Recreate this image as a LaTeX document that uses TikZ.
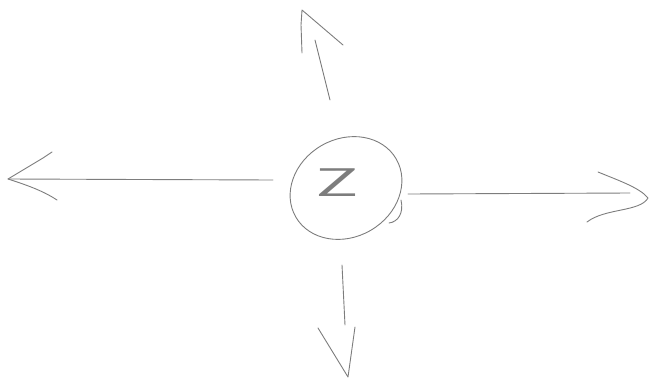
\documentclass[tikz,border=0pt]{standalone}
\usepackage{tikz}
\definecolor{pencil}{RGB}{125,125,125}
\tikzset{sketch/.style={pencil, line width=0.9pt, line cap=round, line join=round}}
\begin{document}
\begin{tikzpicture}[x=1pt,y=-1pt]
        \useasboundingbox (0,0) rectangle (655,383);

        % Centre Z
        \node[pencil, font=\sffamily\fontsize{40}{40}\selectfont, xscale=1.9, inner sep=0pt] (z) at (337,183) {Z};
        \draw[sketch, rotate around={30:(346,188)}] (346,188) ellipse (58 and 49);
        \draw[sketch] (401,200) .. controls (404,213) and (398,222) .. (389,223);

        % Shaft ends and tips
        \coordinate (lfrom) at (273,180);
        \coordinate (ltip) at (8,179);
        \coordinate (rfrom) at (408,194);
        \coordinate (rto) at (630,193);
        \coordinate (rtip) at (648,198);
        \coordinate (ufrom) at (330,100);
        \coordinate (uto) at (315,40);
        \coordinate (utip) at (302,10);
        \coordinate (dfrom) at (342,265);
        \coordinate (dto) at (345,325);
        \coordinate (dtip) at (348,377);

        % Left
        \draw[sketch] (lfrom) -- (ltip);
        \draw[sketch] (52,152) -- (43,158) -- (ltip) .. controls (30,186) and (45,192) .. (57,200);
        % Right
        \draw[sketch] (rfrom) -- (rto);
        \draw[sketch] (598,172) .. controls (620,181) and (640,188) .. (rtip) .. controls (640,212) and (605,208) .. (587,222);
        % Up
        \draw[sketch] (ufrom) -- (uto);
        \draw[sketch] (302,53) -- (301,25) -- (utip) -- (343,45);
        % Down
        \draw[sketch] (dfrom) -- (dto);
        \draw[sketch] (318,328) -- (dtip) -- (355,327);
\end{tikzpicture}
\end{document}
